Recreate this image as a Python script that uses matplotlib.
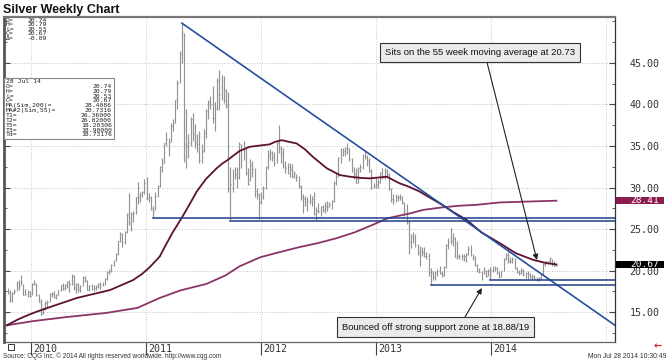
import numpy as np
import pandas as pd
import matplotlib
matplotlib.use("Agg")
import matplotlib.pyplot as plt
import matplotlib.dates as mdates
from matplotlib import transforms
from matplotlib.patches import Rectangle
from matplotlib.ticker import FixedLocator, MultipleLocator, FormatStrFormatter

# ---------------- data (weekly bars, Monday of each week from 2009-10-19) ----------------
h2009 = [17.9, 17.6, 17.4, 17.8, 18.7, 18.8, 19.45, 18.4, 17.8, 17.6, 17.5]
l2009 = [17.2, 16.2, 16.2, 17.2, 17.5, 17.6, 18.3, 17.0, 17.0, 16.8, 16.8]
c2009 = [17.45, 16.45, 17.35, 17.50, 18.50, 18.10, 18.65, 17.10, 17.20, 17.45, 16.95]

h2010 = [18.5, 18.9, 18.5, 17.2, 16.6, 15.6, 16.3, 16.4, 17.3, 17.4, 17.5, 17.2, 17.7, 18.3, 18.5, 18.4,
         18.7, 18.9, 19.6, 19.5, 18.5, 18.5, 18.3, 19.3, 19.3, 18.9, 18.2, 18.4, 18.2, 18.3, 18.5, 18.6,
         18.6, 19.1, 19.9, 20.2, 20.8, 21.3, 22.1, 23.6, 24.7, 24.5, 24.8, 26.9, 29.3, 27.0, 27.2, 28.9,
         30.7, 29.4, 29.6, 31.0]
l2010 = [17.0, 18.2, 16.9, 16.2, 14.65, 14.8, 15.3, 15.6, 16.2, 16.8, 16.7, 16.6, 17.0, 17.5, 17.6, 17.6,
         17.9, 17.4, 18.3, 17.6, 17.3, 17.4, 17.4, 18.1, 18.6, 17.6, 17.5, 17.6, 17.5, 17.6, 17.9, 17.8,
         18.1, 18.3, 18.9, 19.6, 19.8, 20.6, 21.1, 21.9, 23.4, 22.8, 23.2, 24.5, 25.5, 24.8, 25.9, 26.8,
         28.0, 28.2, 28.9, 29.2]
c2010 = [18.40, 18.40, 17.00, 16.20, 14.80, 15.40, 16.10, 16.20, 17.20, 17.20, 16.80, 17.10, 17.60, 18.20,
         17.90, 18.30, 18.60, 18.40, 19.40, 17.90, 18.40, 17.80, 18.10, 19.20, 18.80, 17.70, 18.10, 17.70,
         17.90, 18.00, 18.40, 18.20, 18.50, 19.00, 19.80, 19.90, 20.70, 21.20, 22.00, 23.60, 24.40, 23.40,
         24.70, 26.80, 25.90, 26.80, 26.90, 28.80, 28.80, 29.10, 29.40, 30.60]

h2011 = [31.3, 29.3, 29.0, 27.8, 29.4, 30.3, 32.6, 33.6, 35.4, 36.7, 36.0, 37.8, 38.2, 40.6, 43.0, 46.5,
         49.8, 48.6, 39.4, 36.4, 38.5, 39.0, 37.7, 36.4, 36.8, 35.2, 37.0, 39.5, 40.5, 41.0, 42.2, 40.3,
         43.2, 44.2, 43.5, 43.4, 41.9, 41.5, 32.5, 32.2, 32.5, 32.5, 35.5, 35.2, 35.6, 34.9, 32.3, 33.4,
         33.2, 32.3, 30.0, 29.3]
l2011 = [28.5, 28.3, 27.3, 26.4, 27.3, 28.8, 30.1, 31.9, 33.0, 35.0, 33.8, 35.5, 36.8, 37.8, 39.5, 42.6,
         45.0, 33.1, 32.3, 33.6, 35.0, 35.6, 34.8, 34.3, 33.0, 32.9, 34.3, 36.0, 38.3, 39.4, 37.8, 36.8,
         39.3, 39.3, 40.5, 40.2, 39.6, 29.5, 26.1, 29.4, 31.0, 30.0, 31.0, 32.3, 33.3, 31.5, 30.3, 30.8,
         31.3, 28.8, 28.6, 26.2]
c2011 = [28.70, 28.80, 27.50, 27.20, 29.00, 30.20, 32.50, 33.00, 35.40, 35.80, 35.50, 37.40, 37.80, 40.60,
         42.60, 46.10, 48.60, 35.30, 35.00, 35.40, 38.20, 36.40, 35.50, 35.20, 33.30, 34.40, 36.60, 39.20,
         40.30, 40.00, 38.40, 39.60, 43.00, 41.20, 43.00, 41.70, 39.80, 30.00, 30.40, 31.80, 31.60, 31.30,
         35.30, 34.50, 34.50, 31.80, 30.40, 32.70, 32.20, 29.60, 29.20, 28.20]

h2012 = [29.5, 30.2, 32.6, 34.5, 34.6, 34.4, 34.3, 35.5, 37.5, 35.0, 34.7, 33.2, 33.0, 33.0, 32.8, 32.0,
         31.6, 31.4, 30.3, 29.2, 29.0, 28.9, 29.2, 29.0, 29.4, 27.7, 28.1, 27.8, 27.9, 28.2, 28.4, 28.2,
         28.5, 30.8, 31.8, 33.7, 34.7, 34.8, 34.9, 35.4, 34.8, 33.6, 32.5, 32.4, 32.5, 32.8, 34.0, 34.4,
         33.9, 33.6, 32.2, 30.5, 31.2]
l2012 = [28.0, 28.6, 29.8, 32.2, 33.3, 33.2, 32.6, 33.0, 34.1, 32.9, 32.3, 31.8, 31.6, 31.3, 31.2, 31.2,
         30.8, 29.9, 28.5, 26.9, 27.8, 27.2, 28.0, 27.8, 26.7, 26.1, 26.9, 26.6, 27.1, 26.9, 27.2, 27.6,
         27.4, 28.3, 30.3, 31.3, 33.0, 33.8, 33.8, 34.0, 33.2, 31.9, 31.0, 30.6, 30.6, 31.9, 32.2, 33.4,
         32.6, 31.9, 29.8, 29.9, 29.9]
c2012 = [29.00, 30.00, 32.50, 33.90, 34.20, 33.70, 33.00, 35.40, 34.70, 34.00, 32.60, 32.30, 32.50, 32.20,
         31.40, 31.70, 31.30, 30.20, 28.90, 28.60, 28.30, 28.40, 28.40, 28.60, 26.80, 27.30, 27.20, 27.60,
         27.30, 27.80, 27.60, 28.00, 28.40, 30.60, 31.60, 33.60, 34.60, 34.40, 34.60, 34.70, 33.40, 32.00,
         31.60, 30.60, 32.30, 32.50, 34.00, 33.70, 33.20, 32.00, 29.90, 30.20, 30.40]

h2013 = [31.0, 31.9, 32.4, 32.3, 32.2, 31.8, 30.0, 29.2, 29.2, 29.1, 29.2, 29.0, 28.3, 28.0, 26.0, 24.4,
         24.6, 24.4, 23.2, 22.9, 22.8, 22.8, 22.2, 22.1, 20.3, 20.0, 19.9, 20.2, 20.6, 19.9, 20.5, 23.2,
         23.9, 25.1, 24.5, 24.0, 23.5, 22.0, 22.0, 22.0, 22.1, 23.0, 23.1, 22.0, 21.7, 20.8, 20.3, 20.0,
         20.4, 20.1, 20.2]
l2013 = [29.9, 30.5, 31.0, 31.0, 31.3, 29.7, 28.3, 28.0, 28.2, 28.4, 28.5, 28.0, 26.6, 25.6, 22.0, 22.7,
         23.3, 22.8, 21.9, 20.6, 21.8, 21.6, 21.4, 19.3, 18.2, 18.9, 18.9, 19.4, 19.6, 19.2, 19.3, 20.3,
         22.6, 23.2, 22.9, 21.6, 21.4, 21.4, 21.3, 21.2, 21.0, 21.9, 21.8, 21.3, 20.6, 19.8, 19.7, 18.9,
         19.6, 19.2, 19.4]
c2013 = [30.70, 31.80, 31.30, 32.00, 31.60, 29.90, 28.60, 28.50, 28.90, 28.90, 28.80, 28.30, 27.30, 25.90,
         23.40, 24.20, 23.90, 23.10, 22.10, 22.40, 22.20, 21.70, 21.70, 19.80, 19.70, 19.20, 19.80, 19.90,
         19.70, 19.50, 20.40, 23.10, 23.50, 23.50, 23.90, 21.60, 21.80, 21.70, 21.70, 21.70, 22.00, 22.60,
         21.90, 21.60, 20.70, 19.90, 19.80, 19.70, 19.90, 19.40, 20.00]

h2014 = [20.4, 20.5, 20.6, 20.4, 19.9, 20.0, 21.5, 22.1, 22.2, 21.6, 21.6, 21.5, 20.4, 20.1, 20.3, 20.2,
         19.8, 19.9, 19.7, 19.6, 19.5, 19.2, 19.2, 19.7, 20.9, 21.2, 21.2, 21.6, 21.4, 21.1, 20.79]
l2014 = [18.9, 19.8, 19.9, 19.6, 19.1, 19.2, 20.0, 21.3, 20.9, 20.9, 20.9, 20.2, 19.7, 19.5, 19.6, 19.4,
         19.1, 19.0, 19.1, 19.0, 19.0, 18.7, 18.7, 19.0, 19.5, 20.6, 20.8, 20.9, 20.6, 20.5, 20.53]
c2014 = [20.10, 20.40, 20.30, 19.70, 19.20, 20.00, 21.40, 21.90, 21.10, 21.10, 21.40, 20.30, 19.80, 19.70,
         20.10, 19.60, 19.70, 19.60, 19.20, 19.40, 19.10, 18.80, 19.10, 19.60, 20.80, 21.10, 21.10, 21.50,
         20.90, 20.60, 20.67]

# 55-week moving average
ma55_dates = ['2009-10-16', '2009-11-20', '2009-12-20', '2010-01-16', '2010-03-02', '2010-05-27',
              '2010-09-09', '2010-11-21', '2010-12-20', '2011-01-13', '2011-02-14', '2011-03-01',
              '2011-03-27', '2011-04-27', '2011-05-20', '2011-06-11', '2011-07-10', '2011-08-13',
              '2011-09-01', '2011-09-17', '2011-10-25', '2011-11-26', '2012-01-29', '2012-02-15',
              '2012-03-07', '2012-04-24', '2012-05-20', '2012-06-14', '2012-07-29', '2012-09-08',
              '2012-10-10', '2012-11-15', '2012-12-12', '2013-02-04', '2013-03-17', '2013-04-15',
              '2013-05-20', '2013-06-20', '2013-07-31', '2013-09-05', '2013-10-16', '2013-12-01',
              '2014-01-29', '2014-03-20', '2014-05-14', '2014-06-25', '2014-07-28']
ma55_vals = [13.4, 14.1, 14.6, 15.0, 15.6, 16.7, 17.65, 18.85, 19.6, 20.4, 21.7, 22.8, 24.6, 26.5,
             28.0, 29.5, 31.0, 32.3, 32.9, 33.3, 34.4, 34.9, 35.2, 35.5, 35.7, 35.3, 34.6, 33.7, 32.3,
             31.5, 31.3, 31.15, 31.1, 31.3, 30.5, 30.1, 29.5, 28.8, 27.9, 27.0, 26.1, 24.6, 23.3, 22.1,
             21.3, 20.9, 20.73]

# 200-week moving average
ma200_dates = ['2009-10-16', '2010-01-06', '2010-04-25', '2010-08-29', '2010-12-05', '2011-02-14',
               '2011-04-20', '2011-07-13', '2011-09-10', '2011-10-25', '2011-12-30', '2012-02-28',
               '2012-04-30', '2012-06-30', '2012-08-29', '2012-10-25', '2012-12-21', '2013-02-07',
               '2013-03-15', '2013-04-21', '2013-05-30', '2013-07-29', '2013-09-20', '2013-11-12',
               '2014-01-29', '2014-04-20', '2014-07-28']
ma200_vals = [13.4, 13.9, 14.4, 14.9, 15.5, 16.7, 17.6, 18.4, 19.4, 20.5, 21.6, 22.2, 22.8, 23.3, 23.9,
              24.6, 25.5, 26.3, 26.6, 26.9, 27.3, 27.6, 27.8, 27.9, 28.2, 28.3, 28.41]

# trend lines
trend_dates = ['2011-04-25', '2015-01-30']
trend_vals = [49.8, 13.4]
hlines_start = ['2011-01-24', '2011-09-26', '2013-06-24', '2013-12-30']
hlines_vals = [26.36, 26.02, 18.20, 18.90]

yticks_vals = [15, 20, 25, 30, 35, 40, 45]
year_labels = ['2010', '2011', '2012', '2013', '2014']

info_top = [('O=', '20.74'), ('H=', '20.79'), ('L=', '20.53'), ('C=', '20.67'), ('\u0394=', '-0.09')]
info_box_head = '28 Jul 14'
info_box = [('O=', '20.74'), ('H=', '20.79'), ('L=', '20.53'), ('C=', '20.67'),
            ('MA(Sim,200)=', '28.4086'), ('MA#2(Sim,55)=', '20.7316'), ('T1=', '26.36000'),
            ('T2=', '26.02000'), ('T5=', '18.20306'), ('T3=', '18.90000'), ('Td=', '18.73176')]

last_ma200 = 28.41
last_close = 20.67

# ---------------- build ----------------
high = h2009 + h2010 + h2011 + h2012 + h2013 + h2014
low = l2009 + l2010 + l2011 + l2012 + l2013 + l2014
close = c2009 + c2010 + c2011 + c2012 + c2013 + c2014
dates = pd.date_range('2009-10-19', periods=len(close), freq='W-MON')
xd = mdates.date2num(dates)

W, H = 672, 360
fig = plt.figure(figsize=(W / 100, H / 100), dpi=100)
fig.patch.set_facecolor('white')
ax = fig.add_axes([4 / W, 18 / H, 611 / W, 325 / H])

x0 = mdates.date2num(pd.Timestamp('2009-10-07'))
x1 = mdates.date2num(pd.Timestamp('2015-01-30'))
ax.set_xlim(x0, x1)
ax.set_ylim(11.39, 50.54)

# grid
for yv in yticks_vals:
    ax.axhline(yv, color='#b0b0b0', lw=0.6, ls=(0, (1, 2)), zorder=0)
year_nums = [mdates.date2num(pd.Timestamp(f'{y}-01-01')) for y in range(2010, 2016)]
for xv in year_nums:
    ax.axvline(xv, color='#b8b8b8', lw=0.6, ls=(0, (1, 2)), zorder=0)

# bars
bar_col = '#939393'
ax.vlines(xd, low, high, color=bar_col, lw=0.85, zorder=1)
ax.hlines(close, xd, xd + 3.0, color=bar_col, lw=0.8, zorder=1)

# moving averages
ax.plot(mdates.date2num(pd.to_datetime(ma200_dates)), ma200_vals, color='#8b3567', lw=1.3, zorder=2,
        solid_joinstyle='round')
ax.plot(mdates.date2num(pd.to_datetime(ma55_dates)), ma55_vals, color='#5c1133', lw=1.3, zorder=2,
        solid_joinstyle='round')

# trend lines
ax.plot(mdates.date2num(pd.to_datetime(trend_dates)), trend_vals, color='#2450a0', lw=1.2, zorder=3)
for sd, v in zip(hlines_start, hlines_vals):
    ax.plot([mdates.date2num(pd.Timestamp(sd)), x1], [v, v], color='#1e4088', lw=1.1, zorder=3)

# axes styling
ax.spines['left'].set_linewidth(2.0); ax.spines['left'].set_color('#555555')
ax.spines['top'].set_linewidth(1.6); ax.spines['top'].set_color('#777777')
ax.spines['right'].set_linewidth(0.9); ax.spines['right'].set_color('#333333')
ax.spines['bottom'].set_linewidth(0.9); ax.spines['bottom'].set_color('#666666')

ax.yaxis.set_major_locator(FixedLocator(yticks_vals))
ax.yaxis.set_minor_locator(MultipleLocator(2.5))
ax.yaxis.set_major_formatter(FormatStrFormatter('%.2f'))
ax.tick_params(axis='y', which='both', direction='in', left=True, right=True,
               labelleft=False, labelright=True, color='#444444')
ax.tick_params(axis='y', which='major', length=4, pad=10.5, labelsize=7.2, labelcolor='#333333')
ax.tick_params(axis='y', which='minor', length=2)
for lab in ax.get_yticklabels():
    lab.set_family('DejaVu Sans Mono')

ax.set_xticks(year_nums[:5])
ax.tick_params(axis='x', which='major', direction='out', length=9, width=0.8, color='#444444',
               labelbottom=False)
for xv, lab in zip(year_nums[:5], year_labels):
    tr = transforms.offset_copy(transforms.blended_transform_factory(ax.transData, ax.transAxes),
                                fig=fig, x=2, y=-1.5, units='dots')
    ax.text(xv, 0, lab, transform=tr, ha='left', va='top', fontsize=7.2,
            family='DejaVu Sans Mono', color='#333333', clip_on=False)

# right price markers
blend = transforms.blended_transform_factory(ax.transAxes, ax.transData)
for val, col in [(last_ma200, '#8b1d4e'), (last_close, '#000000')]:
    ax.add_patch(Rectangle((1.0015, val - 0.42), 48 / 611, 0.84, transform=blend, facecolor=col,
                           edgecolor='none', clip_on=False, zorder=6))
    ax.text(1 + 15 / 611, val + 0.05, f'{val:.2f}', transform=blend, ha='left', va='center',
            fontsize=6.8, family='DejaVu Sans Mono', color='white', zorder=7, clip_on=False)

# annotations
ann_kw = dict(textcoords='data', ha='center', va='center', fontsize=6.8, family='Liberation Sans',
              color='#111111', zorder=8)
ax.annotate('Sits on the 55 week moving average at 20.73',
            xy=(mdates.date2num(pd.Timestamp('2014-05-27')), 21.27),
            xytext=(mdates.date2num(pd.Timestamp('2013-11-27')), 46.27),
            bbox=dict(boxstyle='square,pad=0.55', fc='#ebebeb', ec='#333333', lw=0.8),
            arrowprops=dict(arrowstyle='-|>', color='#222222', lw=0.8, mutation_scale=8,
                            relpos=(0.53, 0.0), shrinkA=0, shrinkB=0),
            **ann_kw)
ax.annotate('Bounced off strong support zone at 18.88/19',
            xy=(mdates.date2num(pd.Timestamp('2013-12-03')), 17.89),
            xytext=(mdates.date2num(pd.Timestamp('2013-07-09')), 13.19),
            bbox=dict(boxstyle='square,pad=0.55', fc='#ebebeb', ec='#333333', lw=0.8),
            arrowprops=dict(arrowstyle='-|>', color='#222222', lw=0.8, mutation_scale=8,
                            relpos=(0.64, 1.0), shrinkA=0, shrinkB=0),
            **ann_kw)

# ---------------- figure-level texts ----------------
def fx(px):
    return px / W

def fy(py):
    return 1 - py / H

fig.text(fx(3), fy(13.3), 'Silver Weekly Chart', fontsize=9, fontweight='bold',
         family='Liberation Sans', va='baseline', ha='left', color='#111111')

mono = dict(family='DejaVu Sans Mono', fontsize=4.6, color='#222222', va='center')
for i, (k, v) in enumerate(info_top):
    yy = 20.5 + 4.4 * i
    fig.text(fx(6), fy(yy), k, ha='left', **mono)
    fig.text(fx(47), fy(yy), v, ha='right', **mono)

fig.add_artist(Rectangle((fx(4), fy(139)), fx(110), 61 / H, transform=fig.transFigure,
                         facecolor='white', edgecolor='#888888', lw=0.8, zorder=4))
fig.text(fx(6), fy(81.5), info_box_head, ha='left', zorder=5, **mono)
for i, (k, v) in enumerate(info_box):
    yy = 81.5 + 4.85 * (i + 1)
    fig.text(fx(6), fy(yy), k, ha='left', zorder=5, **mono)
    fig.text(fx(112), fy(yy), v, ha='right', zorder=5, **mono)

fig.add_artist(Rectangle((fx(8), fy(350)), fx(6), 6 / H, transform=fig.transFigure,
                         facecolor='none', edgecolor='#333333', lw=0.7))
fig.text(fx(3), fy(356), 'Source: CQG Inc. \u00a9 2014 All rights reserved worldwide. http://www.cqg.com',
         fontsize=4.7, family='Liberation Sans', ha='left', va='center', color='#333333')
fig.text(fx(666), fy(356), 'Mon Jul 28 2014 10:30:49', fontsize=4.9, family='Liberation Sans',
         ha='right', va='center', color='#333333')
fig.text(fx(658), fy(346), '\u2190', fontsize=7, family='DejaVu Sans', ha='center', va='center',
         color='#e02020', fontweight='bold')

fig.savefig('out.png', dpi=100)
